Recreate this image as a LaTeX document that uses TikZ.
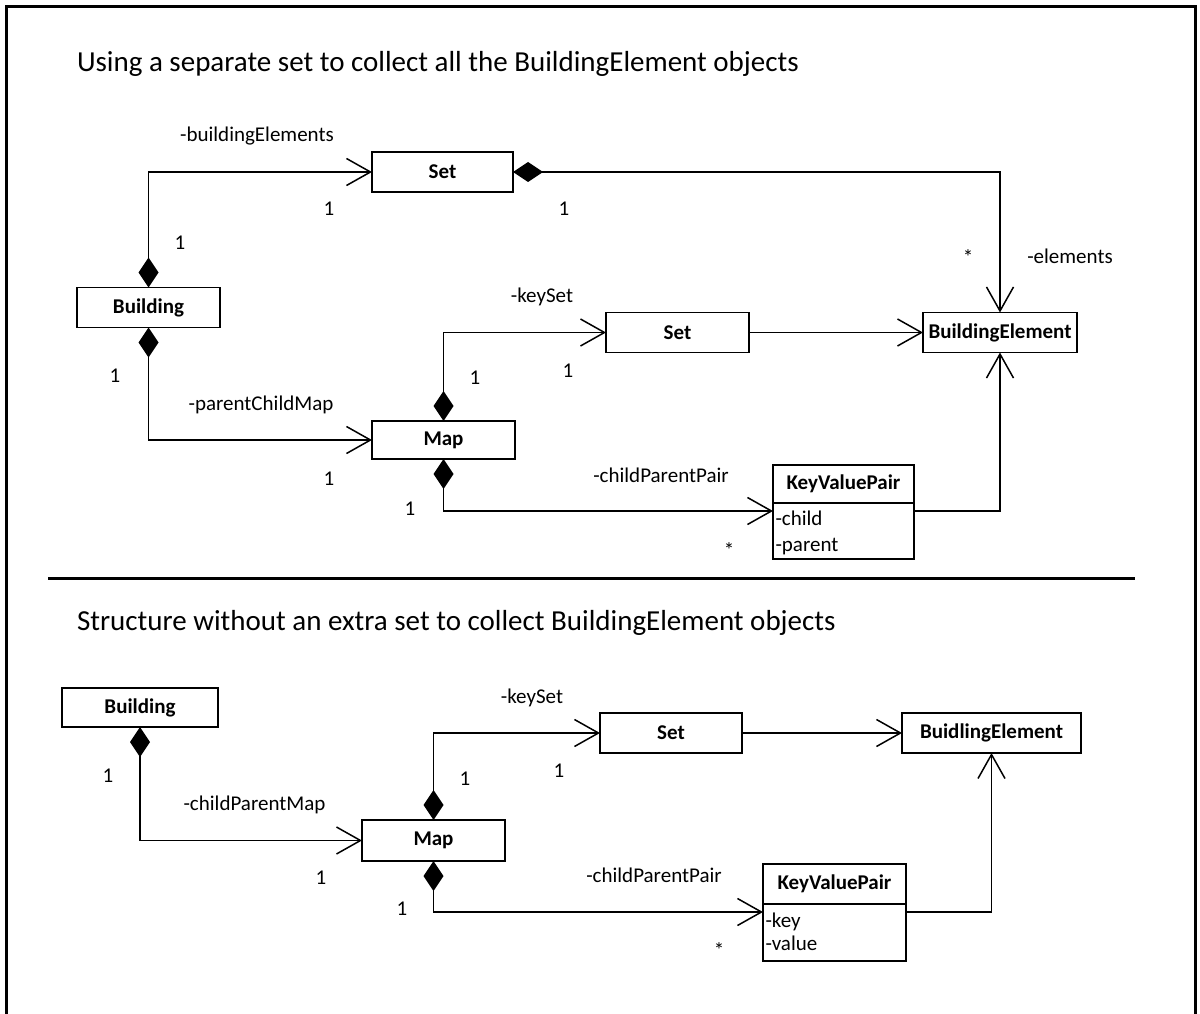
\documentclass[tikz,border=0pt]{standalone}
\usepackage{fontspec}
\setmainfont{Carlito}
\usetikzlibrary{arrows.meta}
\begin{document}
\begin{tikzpicture}[x=1pt,y=-1pt,
  every node/.style={inner sep=0pt,outer sep=0pt},
  cls/.style={draw,line width=1.8pt,fill=white,minimum height=40pt,
    font=\fontsize{21}{25}\selectfont\bfseries},
  lbl/.style={anchor=base,font=\fontsize{21}{25}\selectfont},
  attr/.style={anchor=base west,font=\fontsize{21}{25}\selectfont},
  ttl/.style={anchor=base west,font=\fontsize{29}{35}\selectfont},
  conn/.style={line width=1.4pt},
  assoc/.style={conn,-{Straight Barb[length=24pt,width=27pt,line width=1.5pt]}},
  comp/.style={conn,{Diamond[length=30pt,width=20pt]}-{Straight Barb[length=24pt,width=27pt,line width=1.5pt]}}
]
\useasboundingbox (0,0) rectangle (1200,1014);

% outer frame (open at the bottom) and separator
\draw[line width=3pt] (6.5,1014) -- (6.5,6.5) -- (1195.5,6.5) -- (1195.5,1014);
\draw[line width=3pt] (48,578) -- (1135,578);

% ---------- upper diagram ----------
\node[ttl] (t1) at (77,72) {Using a separate set to collect all the BuildingElement objects};

\node[cls,minimum width=141pt] (set1) at (442.5,172) {Set};
\node[cls,minimum width=143pt] (bld1) at (148.5,307.5) {Building};
\node[cls,minimum width=143pt] (set2) at (677.5,332.5) {Set};
\node[cls,minimum width=154pt] (be1) at (1000,332.5) {BuildingElement};
\node[cls,minimum width=143pt,minimum height=38pt] (map1) at (443.5,440) {Map};
\node[cls,minimum width=141pt,minimum height=38pt] (kvp1h) at (843.5,484) {KeyValuePair};
\node[cls,minimum width=141pt,minimum height=56pt] (kvp1b) at (843.5,531) {};
\node[attr] (kvp1a) at (775.5,525) {-child};
\node[attr] (kvp1c) at (775.5,551) {-parent};

\draw[comp] (bld1.north) |- (set1.west);
\draw[comp] (set1.east) -| (be1.north);
\draw[comp] (bld1.south) |- (map1.west);
\draw[comp] (map1.north) |- (set2.west);
\draw[assoc] (set2.east) -- (be1.west);
\draw[comp] (map1.south) |- ([yshift=20pt]kvp1b.west);
\draw[assoc] ([yshift=20pt]kvp1b.east) -| (be1.south);

\node[lbl] (l1) at (257,142) {-buildingElements};
\node[lbl] (l2) at (329,215) {1};
\node[lbl] (l3) at (564,215) {1};
\node[lbl] (l4) at (180,249) {1};
\node[lbl] (l5) at (968,264) {*};
\node[lbl] (l6) at (1070,263) {-elements};
\node[lbl] (l7) at (542,302) {-keySet};
\node[lbl] (l8) at (115,382) {1};
\node[lbl] (l9) at (261,410) {-parentChildMap};
\node[lbl] (l10) at (475,384) {1};
\node[lbl] (l11) at (568,377) {1};
\node[lbl] (l12) at (329,485) {1};
\node[lbl] (l13) at (661,482) {-childParentPair};
\node[lbl] (l14) at (410,515) {1};
\node[lbl] (l15) at (729,557) {*};

% ---------- lower diagram ----------
\node[ttl] (t2) at (77,630) {Structure without an extra set to collect BuildingElement objects};

\node[cls,minimum width=156pt,minimum height=39pt] (bld2) at (140,707.5) {Building};
\node[cls,minimum width=143pt,minimum height=41pt] (map2) at (433.5,840.5) {Map};
\node[cls,minimum width=142pt] (set3) at (671,733) {Set};
\node[cls,minimum width=179pt] (be2) at (991.5,733) {BuidlingElement};
\node[cls,minimum width=143pt] (kvp2h) at (834.5,884) {KeyValuePair};
\node[cls,minimum width=143pt,minimum height=57pt] (kvp2b) at (834.5,932.5) {};
\node[attr] (kvp2a) at (765.5,927) {-key};
\node[attr] (kvp2c) at (765.5,950) {-value};

\draw[comp] (bld2.south) |- (map2.west);
\draw[comp] (map2.north) |- (set3.west);
\draw[assoc] (set3.east) -- (be2.west);
\draw[comp] (map2.south) |- ([yshift=20.5pt]kvp2b.west);
\draw[assoc] ([yshift=20.5pt]kvp2b.east) -| (be2.south);

\node[lbl] (m1) at (532,703) {-keySet};
\node[lbl] (m2) at (108,782) {1};
\node[lbl] (m3) at (254.5,810) {-childParentMap};
\node[lbl] (m4) at (465,785) {1};
\node[lbl] (m5) at (559,777) {1};
\node[lbl] (m6) at (321,884) {1};
\node[lbl] (m7) at (654,882) {-childParentPair};
\node[lbl] (m8) at (402,915) {1};
\node[lbl] (m9) at (719,957) {*};
\end{tikzpicture}
\end{document}
